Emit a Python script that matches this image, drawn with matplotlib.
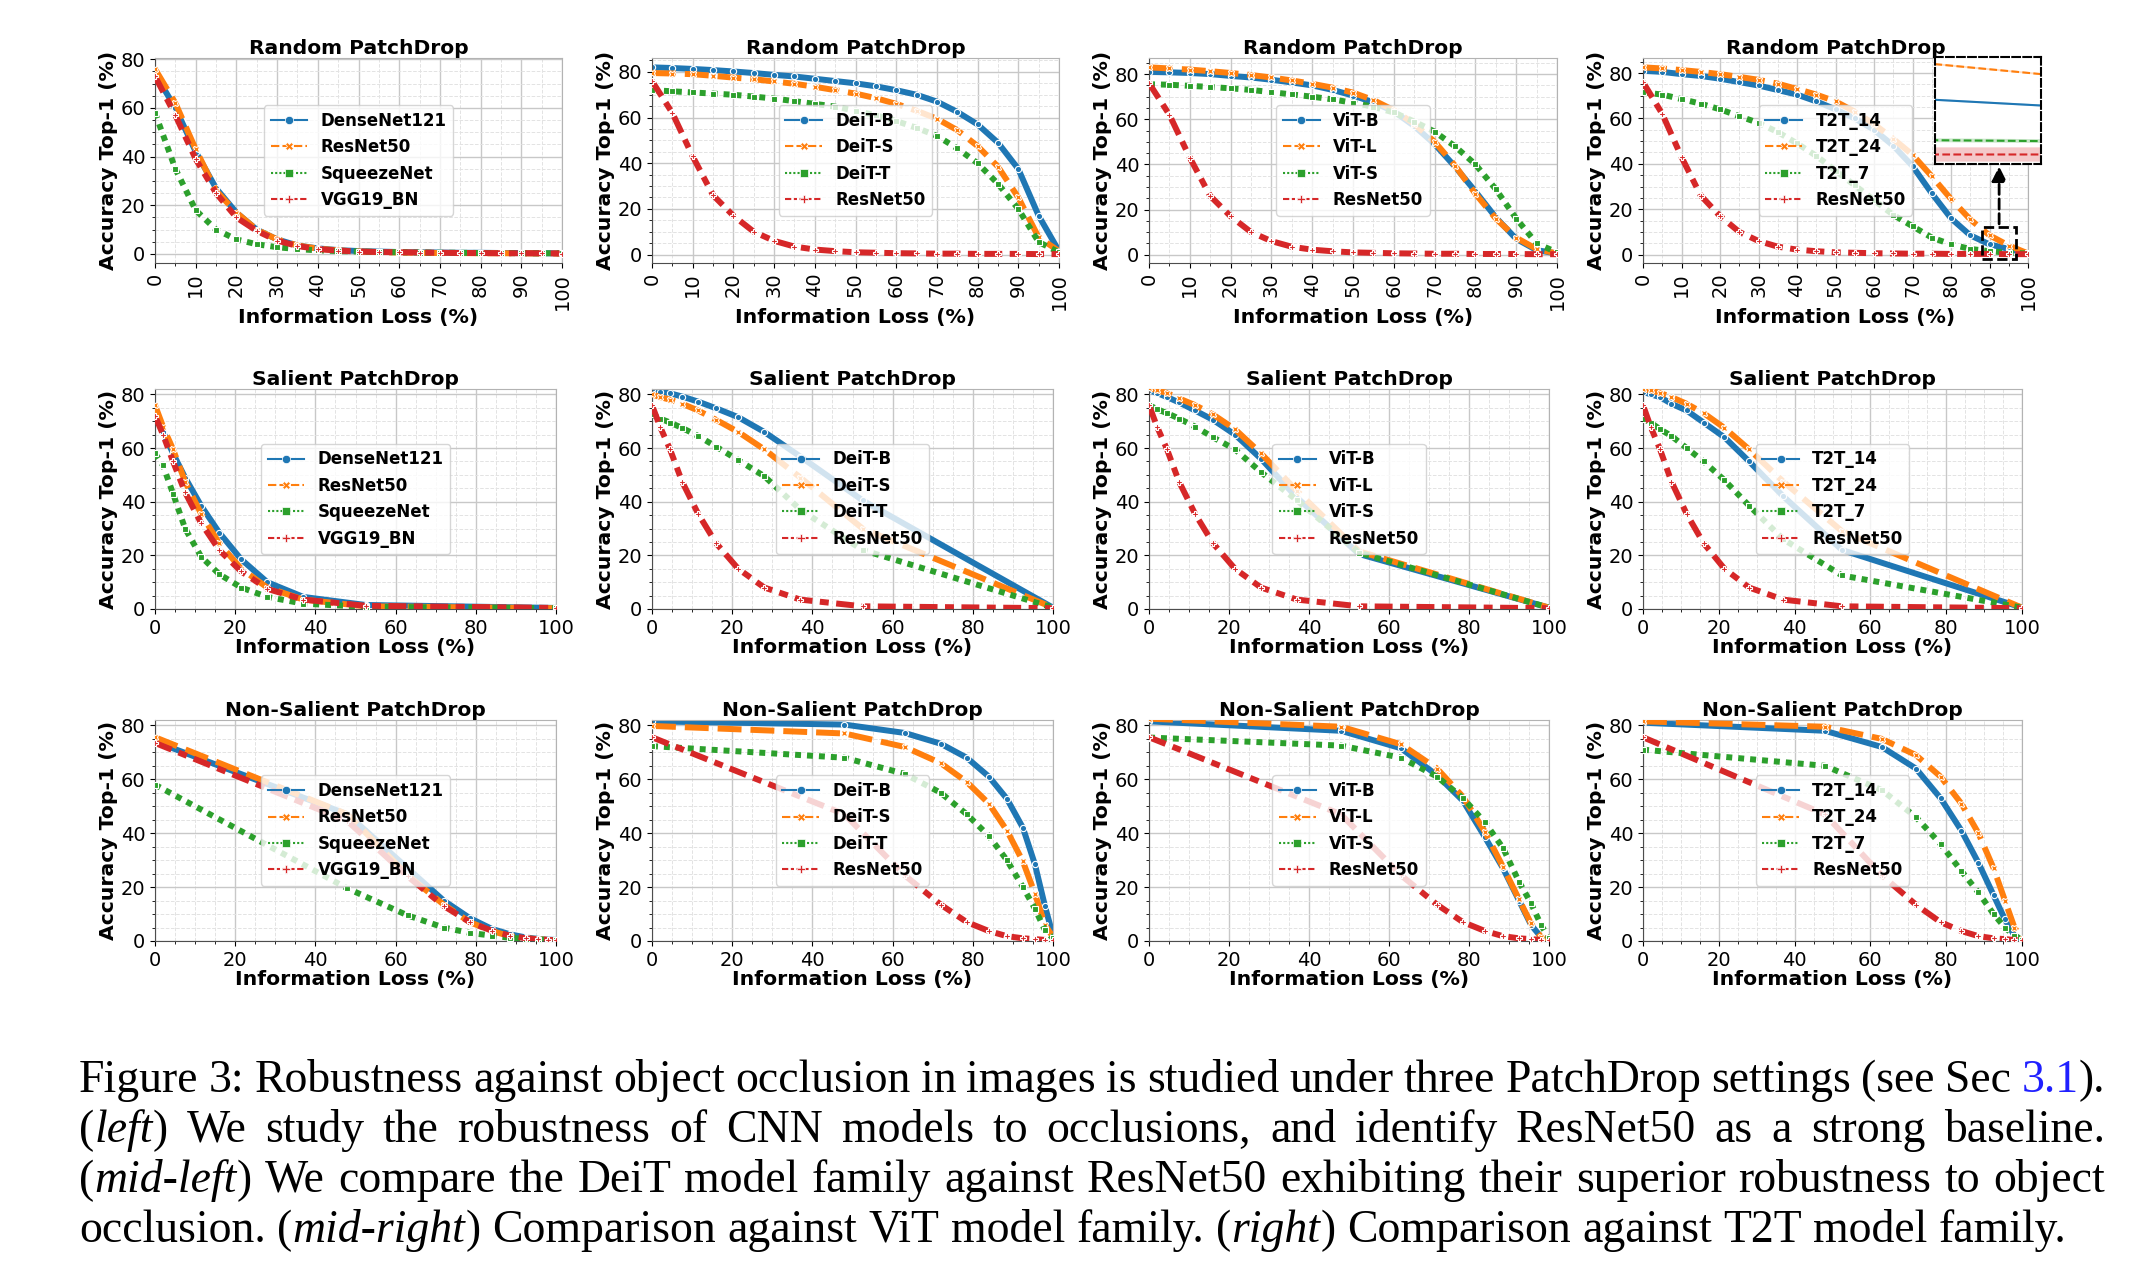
import re
import matplotlib
matplotlib.use('Agg')
import matplotlib.pyplot as plt
from matplotlib.lines import Line2D
from matplotlib.patches import Rectangle
from matplotlib.ticker import MultipleLocator

# information loss grids (%)
x_random = list(range(0, 101, 5))
x_salient = [0, 2, 4.5, 7.5, 11.5, 16, 21.5, 28, 37, 52.5, 100]
x_nonsal = [0, 48, 63, 72, 78.5, 84, 88.5, 92.5, 95.5, 98, 100]

cnn_names = ['DenseNet121', 'ResNet50', 'SqueezeNet', 'VGG19_BN']
deit_names = ['DeiT-B', 'DeiT-S', 'DeiT-T', 'ResNet50']
vit_names = ['ViT-B', 'ViT-L', 'ViT-S', 'ResNet50']
t2t_names = ['T2T_14', 'T2T_24', 'T2T_7', 'ResNet50']

# Random PatchDrop, top-1 accuracy
resnet50_rand = [76, 62, 43, 26, 17, 10, 6, 3.5, 2.2, 1.5, 1.0, 0.8, 0.6, 0.5, 0.4, 0.4, 0.3, 0.3, 0.3, 0.2, 0.2]
densenet_rand = [74, 60, 42, 27, 17, 10, 6, 3.5, 2.3, 1.6, 1.2, 1.0, 0.8, 0.7, 0.6, 0.5, 0.5, 0.4, 0.4, 0.3, 0.3]
squeeze_rand = [58, 35, 18, 10, 6, 4, 2.8, 2.0, 1.5, 1.2, 1.0, 0.8, 0.7, 0.6, 0.5, 0.5, 0.4, 0.4, 0.3, 0.3, 0.3]
vgg_rand = [73, 57, 39, 25, 15, 9.5, 5.5, 3.3, 2.0, 1.4, 1.0, 0.8, 0.7, 0.6, 0.5, 0.4, 0.4, 0.3, 0.3, 0.3, 0.2]
deit_b_rand = [82, 81.7, 81.3, 80.8, 80.2, 79.5, 78.7, 78, 77, 76, 75, 73.7, 72, 70, 67, 62.5, 57, 49, 37.5, 17, 1.5]
deit_s_rand = [79.5, 79.3, 79, 78.3, 77.5, 76.8, 75.8, 74.8, 73.5, 72, 70.5, 68.5, 66, 63, 59.5, 54.5, 47.5, 38.5, 25, 7.5, 1.5]
deit_t_rand = [72, 71.5, 71, 70.5, 70, 69.2, 68.3, 67.2, 66, 64.8, 63, 61, 58.5, 55.5, 52, 46.5, 40, 31, 20, 5.5, 1]
vit_b_rand = [81, 80.8, 80.5, 80, 79.2, 78.5, 77.5, 76.3, 75, 73, 70.5, 67.5, 63.5, 57, 49, 39, 28, 16.5, 7, 2, 0.5]
vit_l_rand = [83, 82.5, 82, 81.3, 80.5, 79.6, 78.5, 77.2, 75.7, 74, 71.8, 68.5, 64, 58, 50, 39.5, 27, 16, 7.5, 2.5, 0.5]
vit_s_rand = [75.5, 75.3, 74.8, 74.3, 73.7, 73, 72, 71, 70, 68.8, 67.3, 65.5, 63, 59, 54.5, 48, 40, 29, 16, 5, 1]
t2t_14_rand = [81, 80.5, 79.5, 78.7, 77.5, 76, 74.5, 72.5, 70.5, 67.5, 64, 60, 55, 48, 39, 27, 16, 8.5, 4.5, 2.5, 0.5]
t2t_24_rand = [82.5, 82, 81.3, 80.5, 79.5, 78.3, 77, 75.3, 73, 70.5, 67.5, 63, 57.5, 51, 44, 34.5, 24.5, 15.5, 8.5, 4, 0.5]
t2t_7_rand = [71.5, 70.5, 68.5, 66.5, 64, 61, 58, 54, 49, 43.5, 37, 30.5, 24, 17.5, 12.5, 7.5, 4.5, 2.5, 1.5, 0.8, 0.5]
t2t_rand_ci = [0.04, 0.04, 0.08, 0.3]

# Salient PatchDrop
resnet50_sal = [76, 68, 59.5, 47.5, 35.5, 24.5, 15, 8, 3.5, 1, 0.3]
densenet_sal = [73, 66, 58, 49, 38.5, 28.5, 18.5, 10, 4.5, 1.5, 0.4]
squeeze_sal = [58, 53.5, 43, 30, 19.5, 13, 8, 4.5, 2, 0.8, 0.3]
vgg_sal = [72, 65, 55, 43.5, 32, 22, 14, 7.5, 3.5, 1.2, 0.4]
deit_b_sal = [82, 81, 80.4, 79.2, 77.3, 74.8, 71.5, 66, 56.8, 40.5, 0.5]
deit_s_sal = [80, 79, 78, 76.5, 74, 70.5, 66, 59.5, 49, 30, 0.5]
deit_t_sal = [72.5, 71, 69.5, 67.5, 64.5, 60.5, 55.5, 49.5, 37, 22, 0.5]
vit_b_sal = [81.5, 80.5, 79, 77, 74, 70.5, 65, 56, 41.5, 20.5, 0.5]
vit_l_sal = [82.5, 81.5, 80.5, 78.5, 76, 72.5, 67, 58, 44, 21.5, 0.5]
vit_s_sal = [76, 74.5, 73, 71, 68, 64, 59.5, 51, 40.5, 21, 0.5]
t2t_14_sal = [81, 80, 79, 76.5, 74, 69.5, 64, 55, 42, 22, 0.5]
t2t_24_sal = [82, 81.5, 80.5, 79, 76.5, 73, 67.5, 59.5, 47.5, 29, 0.5]
t2t_7_sal = [71, 69.5, 67, 64.5, 60, 55, 48, 38.5, 26, 12.5, 0.5]

# Non-Salient PatchDrop
resnet50_ns = [75.6, 47, 24.4, 13.5, 7, 3.7, 1.8, 1, 0.7, 0.4, 0.3]
densenet_ns = [74, 47, 27, 15, 8.5, 4.5, 2.5, 1.3, 0.8, 0.5, 0.4]
squeeze_ns = [58, 19.5, 9.5, 5, 3, 2, 1.2, 0.8, 0.5, 0.4, 0.3]
vgg_ns = [73.5, 44.5, 24, 13, 7, 3.8, 2, 1, 0.6, 0.4, 0.3]
deit_b_ns = [81.5, 80.3, 77.2, 73.2, 68, 61, 52.8, 42, 28.4, 12.9, 2]
deit_s_ns = [79.8, 77, 72, 66, 59, 51, 41, 29.5, 17.5, 6, 1.5]
deit_t_ns = [72.3, 68, 62, 55, 47, 39, 30, 20, 12, 4, 1]
vit_b_ns = [81.5, 78, 71.5, 61.5, 52, 38.5, 27, 15, 6, 1.5, 0.5]
vit_l_ns = [82.5, 79.5, 73, 64, 53.5, 40.5, 27.5, 15.5, 6.5, 1.5, 0.5]
vit_s_ns = [75.5, 72.5, 68, 61, 53, 44, 34.5, 22, 14, 6, 1]
t2t_14_ns = [81, 78, 72, 64, 53, 41, 29, 17, 8, 2, 0.5]
t2t_24_ns = [81.5, 79.5, 75, 69, 61, 51, 40, 27, 15, 5, 1]
t2t_7_ns = [71, 65, 56, 46, 36, 26, 18, 10, 5, 2, 0.5]

caption_lines = [
    "Figure 3: Robustness against object occlusion in images is studied under three PatchDrop settings (see Sec {3.1}).",
    "(*left*) We study the robustness of CNN models to occlusions, and identify ResNet50 as a strong baseline.",
    "(*mid-left*) We compare the DeiT model family against ResNet50 exhibiting their superior robustness to object",
    "occlusion. (*mid-right*) Comparison against ViT model family. (*right*) Comparison against T2T model family.",
]

colors = ['#1f77b4', '#ff7f0e', '#2ca02c', '#d62728']
markers = ['o', 'X', 's', 'P']
dash_list = [None, (4, 1.5), (1, 1), (3, 1.25, 1.5, 1.25)]

W, H = 2132, 1270
fig = plt.figure(figsize=(W / 100, H / 100), dpi=100)


def to_fig(l, r, t, b):
    return [l / W, 1 - b / H, (r - l) / W, (b - t) / H]


def style(line_kw, i):
    if dash_list[i] is not None:
        line_kw['dashes'] = dash_list[i]
    return line_kw


def panel(box, x, ys, names, title, row):
    ax = fig.add_axes(to_fig(*box))
    for i, y in enumerate(ys):
        ax.plot(x, y, **style(dict(color=colors[i], lw=4.3, marker=markers[i], ms=4.5,
                                   mec='white', mew=0.8, zorder=2 + i), i))
    ax.set_xlim(0, 100)
    if row == 0:
        ax.xaxis.set_major_locator(MultipleLocator(10))
        ax.set_ylim(bottom=-3.7, top=max(80.5, ax.get_ylim()[1]))
    else:
        ax.xaxis.set_major_locator(MultipleLocator(20))
        ax.set_ylim(0, 82)
    ax.xaxis.set_minor_locator(MultipleLocator(5))
    ax.yaxis.set_major_locator(MultipleLocator(20))
    ax.yaxis.set_minor_locator(MultipleLocator(5))
    ax.tick_params(labelsize=14)
    ax.tick_params(axis='x', labelrotation=90 if row == 0 else 0)
    ax.grid(which='major', color='#c8c8c8', lw=1)
    ax.grid(which='minor', color='#e3e3e3', lw=0.7, ls='--')
    ax.set_axisbelow(True)
    for s in ['left', 'bottom']:
        ax.spines[s].set_color('0.3')
    for s in ['top', 'right']:
        ax.spines[s].set_color('0.7')
    ax.set_title(title, fontsize=14.6, fontweight='bold', pad=3)
    ax.set_xlabel('Information Loss (%)', fontsize=14.7, fontweight='bold',
                  labelpad=-1 if row == 0 else 0)
    ax.set_ylabel('Accuracy Top-1 (%)', fontsize=14.7, fontweight='bold', labelpad=2)
    handles = [Line2D([], [], **style(dict(color=colors[i], lw=1.5, marker=markers[i], ms=6,
                                           mec='white', mew=0.5), i)) for i in range(4)]
    ax.legend(handles, names, loc='center', prop={'size': 12, 'weight': 'bold'},
              framealpha=0.8, handlelength=2.2)
    return ax


cols_r1 = [(155, 562), (652, 1059), (1149, 1557), (1643, 2028)]
cols_r23 = [(155, 556), (652, 1053), (1149, 1549), (1643, 2022)]
rows = [(58, 263), (389, 609), (720, 941)]

names_all = [cnn_names, deit_names, vit_names, t2t_names]
data = [
    (x_random, 'Random PatchDrop', [
        [densenet_rand, resnet50_rand, squeeze_rand, vgg_rand],
        [deit_b_rand, deit_s_rand, deit_t_rand, resnet50_rand],
        [vit_b_rand, vit_l_rand, vit_s_rand, resnet50_rand],
        [t2t_14_rand, t2t_24_rand, t2t_7_rand, resnet50_rand]]),
    (x_salient, 'Salient PatchDrop', [
        [densenet_sal, resnet50_sal, squeeze_sal, vgg_sal],
        [deit_b_sal, deit_s_sal, deit_t_sal, resnet50_sal],
        [vit_b_sal, vit_l_sal, vit_s_sal, resnet50_sal],
        [t2t_14_sal, t2t_24_sal, t2t_7_sal, resnet50_sal]]),
    (x_nonsal, 'Non-Salient PatchDrop', [
        [densenet_ns, resnet50_ns, squeeze_ns, vgg_ns],
        [deit_b_ns, deit_s_ns, deit_t_ns, resnet50_ns],
        [vit_b_ns, vit_l_ns, vit_s_ns, resnet50_ns],
        [t2t_14_ns, t2t_24_ns, t2t_7_ns, resnet50_ns]]),
]

axes = {}
for r, (x, title, groups) in enumerate(data):
    for c, ys in enumerate(groups):
        cl = cols_r1[c] if r == 0 else cols_r23[c]
        axes[(r, c)] = panel((cl[0], cl[1], rows[r][0], rows[r][1]), x, ys, names_all[c], title, r)

# zoom box + inset on the T2T random panel
ax = axes[(0, 3)]
ax.add_patch(Rectangle((88, -2), 9, 14, fill=False, ls='--', lw=2, ec='black', zorder=10))
ax.annotate('', xy=(92.5, 0.485), xycoords=('data', 'axes fraction'), xytext=(92.5, 12.3),
            textcoords='data',
            arrowprops=dict(arrowstyle='-|>', ls='--', lw=2, color='black', mutation_scale=22))
ins = fig.add_axes(to_fig(1935, 2041, 57, 164), zorder=20)
t2t_rand = [t2t_14_rand, t2t_24_rand, t2t_7_rand, resnet50_rand]
for i, y in enumerate(t2t_rand):
    lo = [v - t2t_rand_ci[i] for v in y]
    hi = [v + t2t_rand_ci[i] for v in y]
    ins.fill_between(x_random, lo, hi, color=colors[i], alpha=0.25, lw=0)
    ins.plot(x_random, y, color=colors[i], lw=1.5, ls='-' if i == 0 else '--')
ins.set_xlim(95, 95.6)
ins.set_ylim(-0.2, 4.3)
ins.set_xticks([])
ins.set_yticks([])
for s in ins.spines.values():
    s.set_linestyle('--')
    s.set_linewidth(1.5)
    s.set_color('black')

# caption, justified by hand
renderer = fig.canvas.get_renderer()
left_px, right_px = 79, 2105
baselines = [1092, 1142, 1192, 1242]


def runs_of(word):
    out = []
    for p in re.split(r'(\*[^*]+\*|\{[^}]+\})', word):
        if not p:
            continue
        if p.startswith('*'):
            out.append((p[1:-1], 'italic', 'black'))
        elif p.startswith('{'):
            out.append((p[1:-1], 'normal', '#2020ff'))
        else:
            out.append((p, 'normal', 'black'))
    return out


def make_line(line, y_px, fs):
    words = []
    for w in line.split(' '):
        texts = []
        for s, st, col in runs_of(w):
            t = fig.text(0, 1 - y_px / H, s, fontsize=fs, family='Liberation Serif',
                         style=st, color=col, va='baseline', ha='left')
            texts.append((t, t.get_window_extent(renderer).width))
        words.append(texts)
    return words


def space_width(fs):
    a = fig.text(0, 0, 'a a', fontsize=fs, family='Liberation Serif')
    b = fig.text(0, 0, 'aa', fontsize=fs, family='Liberation Serif')
    sw = a.get_window_extent(renderer).width - b.get_window_extent(renderer).width
    a.remove()
    b.remove()
    return sw


# font size from the last (unjustified) line
probe = make_line(caption_lines[3], 0, 10)
nat = sum(w for ws in probe for _, w in ws) + space_width(10) * (len(probe) - 1)
for ws in probe:
    for t, _ in ws:
        t.remove()
fs = 10 * (2067 - left_px) / nat

sw = space_width(fs)
for k, line in enumerate(caption_lines):
    words = make_line(line, baselines[k], fs)
    total = sum(w for ws in words for _, w in ws)
    if k < len(caption_lines) - 1:
        gap = (right_px - left_px - total) / (len(words) - 1)
    else:
        gap = sw
    xp = left_px
    for ws in words:
        for t, w in ws:
            t.set_x(xp / W)
            xp += w
        xp += gap

fig.savefig('out.png', dpi=100)
